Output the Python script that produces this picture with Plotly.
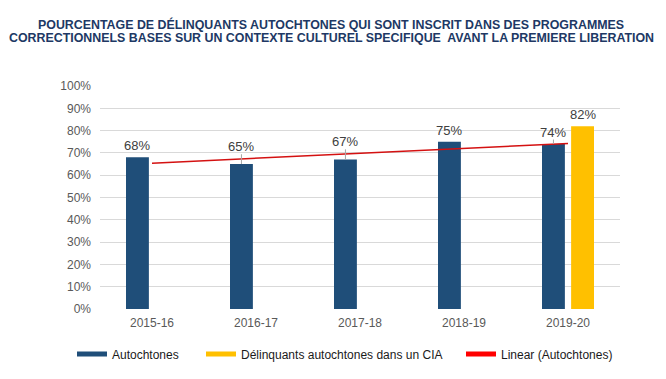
import numpy as np
import plotly.graph_objects as go

categories = ["2015-16", "2016-17", "2017-18", "2018-19", "2019-20"]
autochtones = [68, 65, 67, 75, 74]
cia = [None, None, None, None, 82]
y_ticks = [0, 10, 20, 30, 40, 50, 60, 70, 80, 90, 100]
y_tick_labels = [f"{v}%" for v in y_ticks]

title_lines = [
    "POURCENTAGE DE DÉLINQUANTS AUTOCHTONES QUI SONT INSCRIT DANS DES PROGRAMMES",
    "CORRECTIONNELS BASES SUR UN CONTEXTE CULTUREL SPECIFIQUE  AVANT LA PREMIERE LIBERATION",
]
names = ["Autochtones", "Délinquants autochtones dans un CIA", "Linear (Autochtones)"]

BLUE = "#1F4E79"
YELLOW = "#FFC000"
RED = "#D41111"
FONT = "Liberation Sans, Arial, sans-serif"

W, H = 666, 379
ML, MR, MT, MB = 100, 46, 86, 70

xpos = np.arange(len(categories))
BW = 0.22
OFF_A = -0.25
OFF_C = 0.03

# linear trend of Autochtones
slope, intercept = np.polyfit(xpos, autochtones, 1)
trend = slope * xpos + intercept

fig = go.Figure()
fig.add_trace(go.Bar(x=xpos, y=autochtones, width=BW, offset=OFF_A,
                     marker=dict(color=BLUE, line=dict(width=0)), showlegend=False,
                     hoverinfo="skip"))
fig.add_trace(go.Bar(x=xpos, y=cia, width=BW, offset=OFF_C,
                     marker=dict(color=YELLOW, line=dict(width=0)), showlegend=False,
                     hoverinfo="skip"))
fig.add_trace(go.Scatter(x=xpos, y=trend, mode="lines", line=dict(color=RED, width=1.5),
                         showlegend=False, hoverinfo="skip"))

# leader lines & data labels
lx, ly = [], []
for i, v in enumerate(autochtones):
    xc = i + OFF_A + BW / 2
    base = max(v, trend[i])
    if trend[i] > v:
        lx += [xc, xc, None]
        ly += [v, trend[i] + 1.8, None]
    fig.add_annotation(x=xc, y=base, text=f"{v}%", showarrow=False, yanchor="bottom",
                       yshift=2, font=dict(size=13, color="#404040", family=FONT))
for i, v in enumerate(cia):
    if v is None:
        continue
    xc = i + OFF_C + BW / 2
    fig.add_annotation(x=xc, y=v, text=f"{v}%", showarrow=False, yanchor="bottom",
                       yshift=2, font=dict(size=13, color="#404040", family=FONT))
fig.add_trace(go.Scatter(x=lx, y=ly, mode="lines", line=dict(color="#A6A6A6", width=1),
                         showlegend=False, hoverinfo="skip"))

# title, one annotation per line
plot_w, plot_h = W - ML - MR, H - MT - MB
for line, py in zip(title_lines, [24, 38]):
    fig.add_annotation(text=f"<b>{line}</b>", xref="paper", yref="paper",
                       x=(331 - ML) / plot_w, y=(H - MB - py) / plot_h,
                       xanchor="center", yanchor="middle", showarrow=False,
                       font=dict(size=12.4, color="#203864", family=FONT))

# legend entries (one legend per item, positioned like the original)
leg_colors = [BLUE, YELLOW, "#FF0000"]
leg_x = [72, 201, 461]
leg_ids = ["legend", "legend2", "legend3"]
for nm, col, lid in zip(names, leg_colors, leg_ids):
    fig.add_trace(go.Scatter(x=[None], y=[None], mode="lines", name=nm,
                             line=dict(color=col, width=5), legend=lid, showlegend=True))

leg_common = dict(orientation="h", xref="container", yref="container", xanchor="left",
                  yanchor="middle", y=1 - 354 / H, bgcolor="rgba(0,0,0,0)",
                  font=dict(size=12, color="#1A1A1A", family=FONT))
layout_legends = {lid: dict(leg_common, x=px / W) for lid, px in zip(leg_ids, leg_x)}

fig.update_layout(
    width=W, height=H,
    margin=dict(l=ML, r=MR, t=MT, b=MB, autoexpand=False),
    paper_bgcolor="white", plot_bgcolor="white",
    barmode="overlay",
    xaxis=dict(range=[-0.5, len(categories) - 0.5], tickvals=xpos, ticktext=categories,
               showgrid=False, zeroline=False, showline=False, ticks="",
               ticklabelstandoff=5,
               tickfont=dict(size=12, color="#595959", family=FONT)),
    yaxis=dict(range=[0, 100], tickvals=y_ticks, ticktext=y_tick_labels,
               showgrid=True, gridcolor="#D9D9D9", gridwidth=1, zeroline=False,
               showline=False, ticks="", ticklabelstandoff=8,
               tickfont=dict(size=12, color="#595959", family=FONT)),
    **layout_legends,
)

fig.write_html("out.html", config={"displayModeBar": False},
               post_script="document.body.style.margin='0';")
